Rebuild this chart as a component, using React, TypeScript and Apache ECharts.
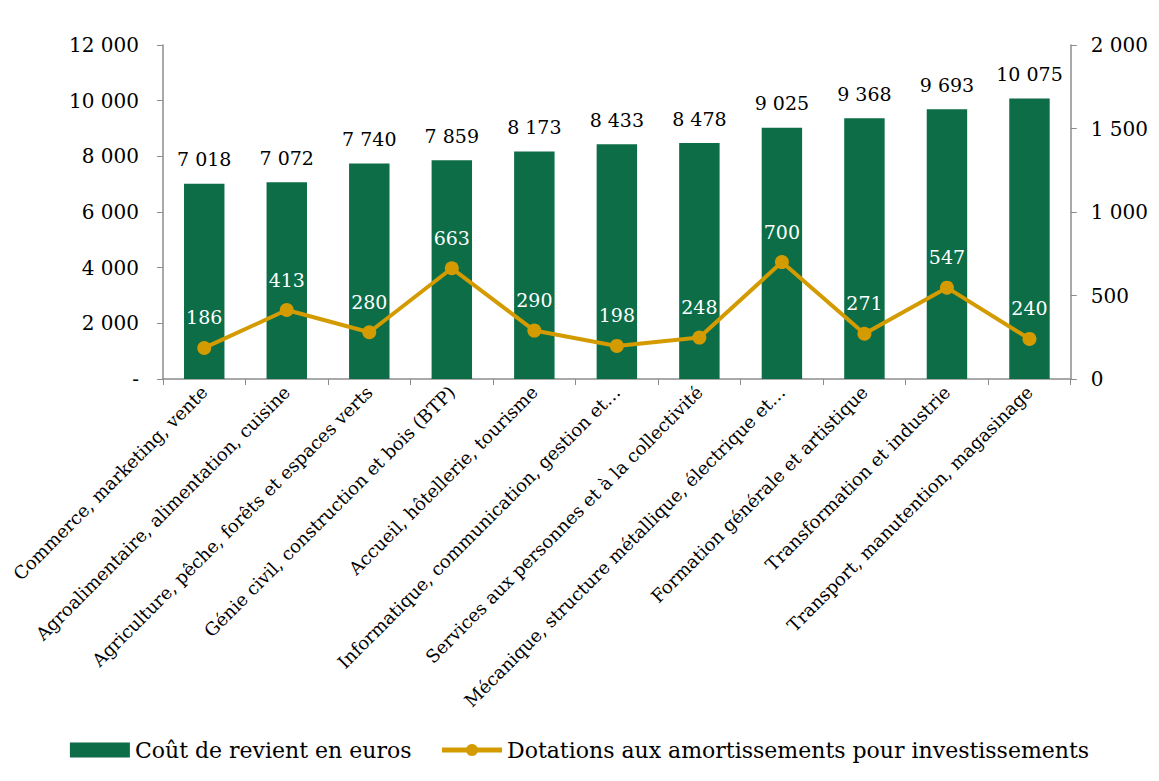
import React, { useEffect, useRef } from "react";
import * as echarts from "echarts";

const categories = [
  "Commerce, marketing, vente",
  "Agroalimentaire, alimentation, cuisine",
  "Agriculture, pêche, forêts et espaces verts",
  "Génie civil, construction et bois (BTP)",
  "Accueil, hôtellerie, tourisme",
  "Informatique, communication, gestion et…",
  "Services aux personnes et à la collectivité",
  "Mécanique, structure métallique, électrique et…",
  "Formation générale et artistique",
  "Transformation et industrie",
  "Transport, manutention, magasinage",
];
const coutRevient = [7018, 7072, 7740, 7859, 8173, 8433, 8478, 9025, 9368, 9693, 10075];
const dotations = [186, 413, 280, 663, 290, 198, 248, 700, 271, 547, 240];

const FONT = "DejaVu Serif";
const fmt = (n: number) => String(n).replace(/\B(?=(\d{3})+(?!\d))/g, " ");

export default function App() {
  const ref = useRef<HTMLDivElement>(null);
  useEffect(() => {
    if (!ref.current) return;
    const chart = echarts.init(ref.current, undefined, { renderer: "svg" });
    chart.setOption({
      animation: false,
      textStyle: { fontFamily: FONT },
      grid: { left: 150, right: 78, top: 37, bottom: 394 },
      legend: {
        bottom: 7,
        left: "center",
        itemWidth: 60,
        itemHeight: 15,
        itemGap: 28,
        textStyle: { fontFamily: FONT, fontSize: 22, color: "#000" },
        data: [
          { name: "Coût de revient en euros", icon: "rect" },
          { name: "Dotations aux amortissements pour investissements", lineStyle: { width: 5 } },
        ],
      },
      xAxis: {
        type: "category",
        data: categories,
        axisLine: { lineStyle: { color: "#8c8c8c", width: 1.5 } },
        axisTick: { show: true, alignWithLabel: false, length: 6, lineStyle: { color: "#8c8c8c" } },
        axisLabel: {
          rotate: 45,
          interval: 0,
          fontFamily: FONT,
          fontSize: 18,
          color: "#000",
          margin: 10,
        },
      },
      yAxis: [
        {
          type: "value",
          min: 0,
          max: 12000,
          interval: 2000,
          splitLine: { show: false },
          axisLine: { show: true, lineStyle: { color: "#8c8c8c", width: 1.5 } },
          axisTick: { show: true, length: 6, lineStyle: { color: "#8c8c8c" } },
          axisLabel: {
            fontFamily: FONT,
            fontSize: 20,
            color: "#000",
            margin: 24,
            formatter: (v: number) => (v === 0 ? "-" : fmt(v)),
          },
        },
        {
          type: "value",
          min: 0,
          max: 2000,
          interval: 500,
          position: "right",
          splitLine: { show: false },
          axisLine: { show: true, lineStyle: { color: "#8c8c8c", width: 1.5 } },
          axisTick: { show: true, length: 6, lineStyle: { color: "#8c8c8c" } },
          axisLabel: {
            fontFamily: FONT,
            fontSize: 20,
            color: "#000",
            margin: 20,
            formatter: (v: number) => fmt(v),
          },
        },
      ],
      series: [
        {
          name: "Coût de revient en euros",
          type: "bar",
          data: coutRevient,
          barWidth: "49%",
          itemStyle: { color: "#0c6d47" },
          label: {
            show: true,
            position: "top",
            distance: 15,
            color: "#000",
            fontFamily: FONT,
            fontSize: 19,
            formatter: (p: any) => fmt(p.value),
          },
        },
        {
          name: "Dotations aux amortissements pour investissements",
          type: "line",
          yAxisIndex: 1,
          data: dotations,
          symbol: "circle",
          symbolSize: 14,
          lineStyle: { color: "#d39b00", width: 4 },
          itemStyle: { color: "#d39b00" },
          label: {
            show: true,
            position: "top",
            distance: 14,
            color: "#fff",
            fontFamily: FONT,
            fontSize: 19,
          },
        },
      ],
    });
    return () => chart.dispose();
  }, []);
  return <div ref={ref} style={{ width: 1143, height: 765 }} />;
}
